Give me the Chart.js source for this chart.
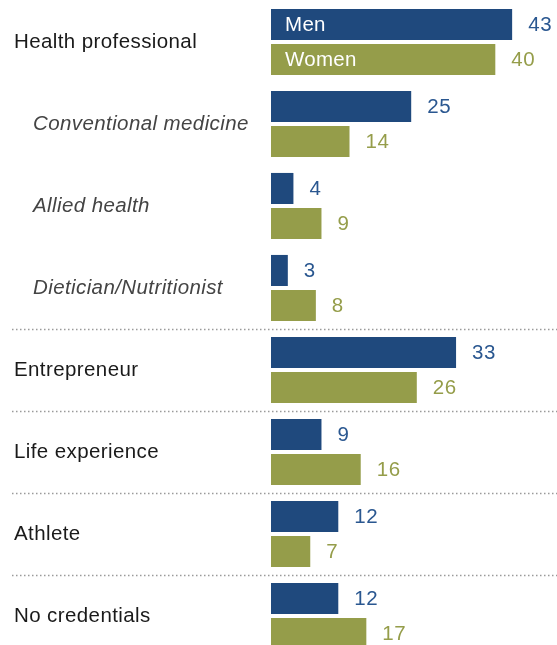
<!DOCTYPE html>
<html>
<head>
<meta charset="utf-8">
<script src="https://cdn.jsdelivr.net/npm/chart.js@4"></script>
<style>
  html, body { margin: 0; padding: 0; background: #fff; overflow: hidden; }
  #wrap { position: relative; width: 557px; height: 657px; }
</style>
</head>
<body>
<div id="wrap"><canvas id="chart"></canvas></div>
<script>
const categories = [
  "Health professional",
  "Conventional medicine",
  "Allied health",
  "Dietician/Nutritionist",
  "Entrepreneur",
  "Life experience",
  "Athlete",
  "No credentials",
];
// sub-types of "Health professional" are indented and set in italics
const isSubtype = [false, true, true, true, false, false, false, false];
const seriesNames = ["Men", "Women"];
const menValues = [43, 25, 4, 3, 33, 9, 12, 12];
const womenValues = [40, 14, 9, 8, 26, 16, 7, 17];
// dotted rule drawn above these rows
const ruleBefore = [4, 5, 6, 7];

const BLUE = "#1f497d";
const GREEN = "#959d4a";
const BLUE_TEXT = "#2a5790";
const FONT = '"Liberation Sans", Arial, sans-serif';

const overlay = {
  id: "overlay",
  afterDatasetsDraw(chart) {
    const { ctx, scales } = chart;
    const y = scales.y;
    ctx.save();

    // row labels
    ctx.textBaseline = "middle";
    ctx.textAlign = "left";
    ctx.letterSpacing = "0.4px";
    categories.forEach((name, i) => {
      const py = y.getPixelForValue(i);
      ctx.font = (isSubtype[i] ? "italic " : "") + "20.5px " + FONT;
      ctx.fillStyle = isSubtype[i] ? "#444" : "#1a1a1a";
      ctx.fillText(name, isSubtype[i] ? 33 : 14, py);
    });

    // dotted separators
    ctx.letterSpacing = "0px";
    ctx.strokeStyle = "#9a9a9a";
    ctx.lineWidth = 1.5;
    ctx.setLineDash([1.5, 2.5]);
    ruleBefore.forEach((i) => {
      const py = Math.round((y.getPixelForValue(i - 1) + y.getPixelForValue(i)) / 2) + 0.5;
      ctx.beginPath();
      ctx.moveTo(12, py);
      ctx.lineTo(chart.width, py);
      ctx.stroke();
    });
    ctx.setLineDash([]);

    // values at bar ends, series names inside the first pair
    ctx.font = "20.5px " + FONT;
    chart.data.datasets.forEach((ds, di) => {
      const meta = chart.getDatasetMeta(di);
      meta.data.forEach((bar, i) => {
        ctx.letterSpacing = "0.6px";
        ctx.fillStyle = di === 0 ? BLUE_TEXT : GREEN;
        ctx.fillText(String(ds.data[i]), bar.x + 16, bar.y + 1);
        if (i === 0) {
          ctx.letterSpacing = "0.3px";
          ctx.fillStyle = "#fff";
          ctx.fillText(seriesNames[di], bar.base + 14, bar.y + 1);
        }
      });
    });
    ctx.restore();
  },
};

new Chart(document.getElementById("chart"), {
  type: "bar",
  data: {
    labels: categories,
    datasets: [
      { label: seriesNames[0], data: menValues, backgroundColor: BLUE },
      { label: seriesNames[1], data: womenValues, backgroundColor: GREEN },
    ],
  },
  options: {
    indexAxis: "y",
    responsive: true,
    maintainAspectRatio: false,
    animation: false,
    categoryPercentage: 0.855,
    barPercentage: 0.886,
    layout: { padding: { left: 271, top: 1, right: 0, bottom: 0 } },
    plugins: {
      legend: { display: false },
      tooltip: { enabled: false },
    },
    scales: {
      x: { min: 0, max: 51, display: false },
      y: { display: false },
    },
  },
  plugins: [overlay],
});
</script>
</body>
</html>
